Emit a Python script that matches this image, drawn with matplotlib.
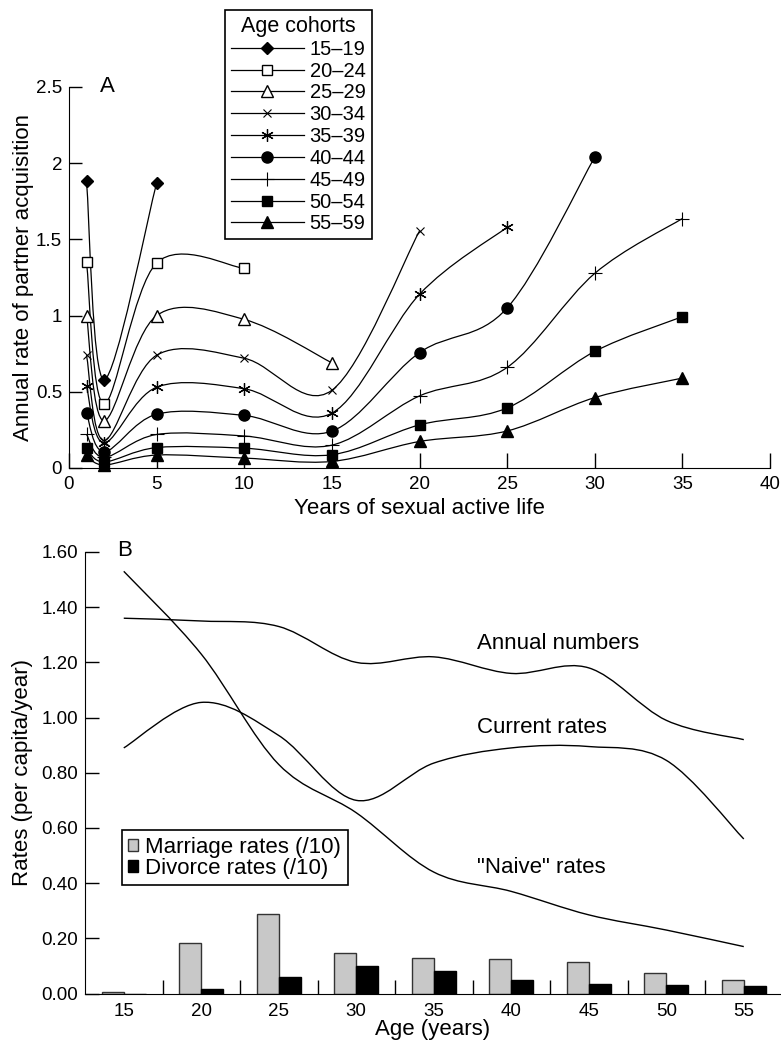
import numpy as np
import matplotlib
matplotlib.use('Agg')
import matplotlib.pyplot as plt
from matplotlib.path import Path
from matplotlib.patches import PathPatch, Patch
from matplotlib.lines import Line2D

plt.rcParams['font.family'] = ['Liberation Sans', 'DejaVu Sans']

# ---- panel A: annual rate of partner acquisition by cohort ----
years = [1, 2, 5, 10, 15, 20, 25, 30, 35]
cohort_labels = ['15–19', '20–24', '25–29', '30–34', '35–39',
                 '40–44', '45–49', '50–54', '55–59']
rate_15_19 = [1.88, 0.58, 1.87]
rate_20_24 = [1.35, 0.42, 1.345, 1.31]
rate_25_29 = [1.00, 0.31, 1.00, 0.975, 0.69]
rate_30_34 = [0.74, 0.18, 0.74, 0.72, 0.51, 1.555]
rate_35_39 = [0.535, 0.165, 0.53, 0.52, 0.36, 1.14, 1.58]
rate_40_44 = [0.36, 0.107, 0.353, 0.345, 0.242, 0.757, 1.05, 2.04]
rate_45_49 = [0.22, 0.07, 0.22, 0.21, 0.15, 0.473, 0.66, 1.277, 1.637]
rate_50_54 = [0.13, 0.04, 0.134, 0.13, 0.087, 0.283, 0.394, 0.765, 0.993]
rate_55_59 = [0.085, 0.02, 0.085, 0.065, 0.043, 0.174, 0.243, 0.462, 0.59]

# ---- panel B: rates by age ----
ages = ['15', '20', '25', '30', '35', '40', '45', '50', '55']
annual_numbers = [1.36, 1.35, 1.33, 1.20, 1.22, 1.16, 1.18, 0.99, 0.92]
current_rates = [0.89, 1.055, 0.935, 0.70, 0.835, 0.89, 0.895, 0.845, 0.56]
naive_rates = [1.53, 1.23, 0.83, 0.655, 0.44, 0.37, 0.285, 0.23, 0.17]
marriage_rates = [0.006, 0.182, 0.288, 0.145, 0.127, 0.125, 0.115, 0.076, 0.048]
divorce_rates = [0.0, 0.018, 0.059, 0.099, 0.081, 0.048, 0.036, 0.030, 0.028]


def smooth_path(x, y):
    # Catmull-Rom through the points, drawn as cubic Bezier segments
    P = np.column_stack([x, y]).astype(float)
    n = len(P)
    verts = [P[0]]
    codes = [Path.MOVETO]
    for i in range(n - 1):
        p0 = P[i - 1] if i > 0 else P[i]
        p3 = P[i + 2] if i + 2 < n else P[i + 1]
        verts += [P[i] + (P[i + 1] - p0) / 6, P[i + 1] - (p3 - P[i]) / 6, P[i + 1]]
        codes += [Path.CURVE4] * 3
    return Path(verts, codes)


W, H = 781, 1043
fig = plt.figure(figsize=(W / 100, H / 100), dpi=100)

# ================= Panel A =================
axA = fig.add_axes([69 / W, 1 - 468 / H, 701 / W, 381 / H])
series = [rate_15_19, rate_20_24, rate_25_29, rate_30_34, rate_35_39,
          rate_40_44, rate_45_49, rate_50_54, rate_55_59]
styles = [
    dict(marker='D', ms=6.5, mfc='k'),
    dict(marker='s', ms=7, mfc='white'),
    dict(marker='^', ms=8, mfc='white'),
    dict(marker='x', ms=6, mfc='k', mew=0.8),
    dict(marker=(6, 2, 0), ms=9, mfc='k', mew=0.9),
    dict(marker='o', ms=8, mfc='k'),
    dict(marker='+', ms=10, mfc='k', mew=0.8),
    dict(marker='s', ms=7, mfc='k'),
    dict(marker='^', ms=8, mfc='k'),
]
handles = []
for vals, st in zip(series, styles):
    xs = years[:len(vals)]
    axA.add_patch(PathPatch(smooth_path(xs, vals), fc='none', ec='k', lw=0.9, clip_on=False))
    axA.plot(xs, vals, linestyle='none', mec='k', color='k', clip_on=False, zorder=3, **st)
    handles.append(Line2D([], [], color='k', lw=0.9, mec='k', **st))

axA.set_xlim(0, 40)
axA.set_ylim(0, 2.5)
axA.set_xticks(range(0, 41, 5))
axA.set_yticks([0, 0.5, 1, 1.5, 2, 2.5])
axA.set_yticklabels(['0', '0.5', '1', '1.5', '2', '2.5'])
for s in ['top', 'right']:
    axA.spines[s].set_visible(False)
axA.tick_params(axis='x', direction='in', length=11, width=1, labelsize=13.5, pad=6)
axA.tick_params(axis='y', direction='in', length=9, width=1, labelsize=13.5, pad=5)
axA.set_xlabel('Years of sexual active life', fontsize=16, labelpad=3)
axA.set_ylabel('Annual rate of partner acquisition', fontsize=16, labelpad=1)
axA.text(1.77, 2.5, 'A', fontsize=16, va='center', ha='left')

legA = fig.legend(handles, cohort_labels, title='Age cohorts', loc='upper left',
                  bbox_to_anchor=(225 / W, 1 - 10 / H), fancybox=False, edgecolor='k',
                  framealpha=1, borderaxespad=0, handlelength=3.6, handletextpad=0.3,
                  labelspacing=0.14, borderpad=0.3, fontsize=14.5, title_fontsize=15.5)
legA.get_frame().set_linewidth(1.2)

# ================= Panel B =================
axB = fig.add_axes([85 / W, 1 - 993.5 / H, 696 / W, 441.5 / H])
pos = np.arange(len(ages))
bw = 0.284
axB.bar(pos - bw / 2, marriage_rates, bw, color='#c8c8c8', edgecolor='#333333', lw=1)
axB.bar(pos + bw / 2, divorce_rates, bw, color='k', edgecolor='k', lw=1)
for vals in [annual_numbers, current_rates, naive_rates]:
    axB.add_patch(PathPatch(smooth_path(pos, vals), fc='none', ec='k', lw=1.0))

axB.set_xlim(-0.5, 8.48)
axB.set_ylim(0, 1.6)
axB.set_xticks(pos)
axB.set_xticklabels(ages)
axB.set_xticks(np.arange(0.5, 8, 1), minor=True)
axB.set_yticks(np.arange(0, 1.61, 0.2))
axB.set_yticklabels(['%.2f' % v for v in np.arange(0, 1.61, 0.2)])
for s in ['top', 'right']:
    axB.spines[s].set_visible(False)
axB.tick_params(axis='x', which='major', length=0, labelsize=13.5, pad=7)
axB.tick_params(axis='x', which='minor', direction='in', length=10, width=1)
axB.tick_params(axis='y', direction='in', length=10, width=1, labelsize=13.5, pad=5)
axB.set_xlabel('Age (years)', fontsize=16, labelpad=-1)
axB.set_ylabel('Rates (per capita/year)', fontsize=16, labelpad=6)
axB.text(-0.085, 1.607, 'B', fontsize=16, va='center', ha='left')
axB.text(4.557, 1.267, 'Annual numbers', fontsize=16, va='center', ha='left')
axB.text(4.557, 0.964, 'Current rates', fontsize=16, va='center', ha='left')
axB.text(4.557, 0.455, '"Naive" rates', fontsize=16, va='center', ha='left')

legB = axB.legend([Patch(fc='#c8c8c8', ec='#333333'), Patch(fc='k', ec='k')],
                  ['Marriage rates (/10)', 'Divorce rates (/10)'],
                  loc='upper left', bbox_to_anchor=(121.7 / W, 1 - 830 / H),
                  bbox_transform=fig.transFigure, fancybox=False, edgecolor='k',
                  framealpha=1, borderaxespad=0, handlelength=0.45, handleheight=0.45,
                  handletextpad=0.3, labelspacing=0.0, borderpad=0.3, fontsize=16)
legB.get_frame().set_linewidth(1.2)

fig.savefig('out.png', dpi=100)
